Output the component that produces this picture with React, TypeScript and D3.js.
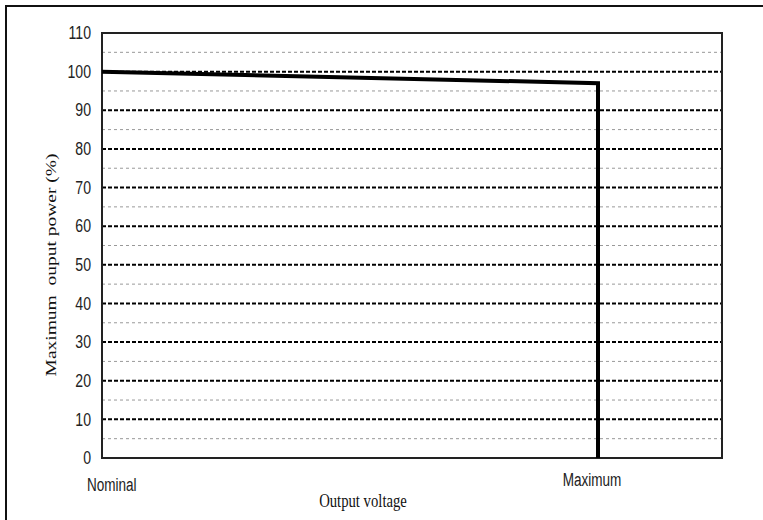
import React, { useEffect, useRef } from "react";
import * as d3 from "d3";

// Output voltage position (0 = nominal, 1 = maximum) vs max output power (%)
const voltagePos = [0, 1, 1];
const powerPct = [100, 97, 0];
const yTicks = [0, 10, 20, 30, 40, 50, 60, 70, 80, 90, 100, 110];
const minorTicks = [5, 15, 25, 35, 45, 55, 65, 75, 85, 95, 105];
const xLabels = ["Nominal", "Maximum"];

const App = () => {
  const svgRef = useRef<SVGSVGElement>(null);

  useEffect(() => {
    if (!svgRef.current) return;
    const svg = d3.select(svgRef.current);
    svg.selectAll("*").remove();

    const width = 763;
    const height = 520;
    const plot = { left: 102, top: 33, right: 722, bottom: 458 };
    const sans = "'Liberation Sans', Arial, sans-serif";
    const serif = "'Liberation Serif', 'Times New Roman', serif";

    const x = d3.scaleLinear().domain([0, 1.25]).range([plot.left, plot.right]);
    const y = d3.scaleLinear().domain([0, 110]).range([plot.bottom, plot.top]);

    svg.append("rect").attr("width", width).attr("height", height).attr("fill", "#fff");

    // outer frame (runs off right/bottom edge)
    svg.append("rect")
      .attr("x", 6).attr("y", 6)
      .attr("width", width + 20).attr("height", height + 20)
      .attr("fill", "none").attr("stroke", "#111").attr("stroke-width", 2);

    // minor grid
    svg.append("g").selectAll("line")
      .data(minorTicks).enter().append("line")
      .attr("x1", plot.left).attr("x2", plot.right)
      .attr("y1", (d) => y(d)).attr("y2", (d) => y(d))
      .attr("stroke", "#999").attr("stroke-width", 1)
      .attr("stroke-dasharray", "3,3");

    // major grid
    svg.append("g").selectAll("line")
      .data(yTicks.filter((d) => d > 0 && d < 110)).enter().append("line")
      .attr("x1", plot.left).attr("x2", plot.right)
      .attr("y1", (d) => y(d)).attr("y2", (d) => y(d))
      .attr("stroke", "#000").attr("stroke-width", 2)
      .attr("stroke-dasharray", "4,2");

    // plot border
    svg.append("rect")
      .attr("x", plot.left).attr("y", plot.top)
      .attr("width", plot.right - plot.left).attr("height", plot.bottom - plot.top)
      .attr("fill", "none").attr("stroke", "#222").attr("stroke-width", 2);

    // y tick labels (condensed look)
    svg.append("g").selectAll("text")
      .data(yTicks).enter().append("text")
      .attr("transform", (d) => `translate(${plot.left - 11},${y(d)}) scale(0.88,1.1)`)
      .attr("dy", "0.35em").attr("text-anchor", "end")
      .attr("font-family", sans).attr("font-size", 16).attr("fill", "#222")
      .text((d) => d);

    // line
    const pts = voltagePos.map((v, i) => [v, powerPct[i]] as [number, number]);
    const line = d3.line<[number, number]>().x((d) => x(d[0])).y((d) => y(d[1]));
    svg.append("path")
      .attr("d", line(pts))
      .attr("fill", "none").attr("stroke", "#000")
      .attr("stroke-width", 4).attr("stroke-linejoin", "miter");

    // x labels
    svg.append("text")
      .attr("transform", `translate(${x(0) - 15},491) scale(0.82,1.1)`)
      .attr("font-family", sans).attr("font-size", 16.5).attr("fill", "#222")
      .text(xLabels[0]);
    svg.append("text")
      .attr("transform", `translate(${x(1) - 6},486) scale(0.82,1.1)`)
      .attr("text-anchor", "middle")
      .attr("font-family", sans).attr("font-size", 16.5).attr("fill", "#222")
      .text(xLabels[1]);

    // axis titles
    svg.append("text")
      .attr("transform", "translate(363,507) scale(0.98,1.2)")
      .attr("text-anchor", "middle")
      .attr("font-family", serif).attr("font-size", 15).attr("fill", "#111")
      .text("Output voltage");
    svg.append("text")
      .attr("transform", "translate(56,265) rotate(-90) scale(1.3,1)")
      .attr("text-anchor", "middle")
      .attr("font-family", serif).attr("font-size", 15).attr("fill", "#111")
      .attr("xml:space", "preserve")
      .style("white-space", "pre")
      .text("Maximum  ouput power (%)");
  }, []);

  return (
    <div style={{ position: "absolute", left: 0, top: 0 }}>
      <svg ref={svgRef} width={763} height={520} style={{ display: "block" }} />
    </div>
  );
};

export default App;
